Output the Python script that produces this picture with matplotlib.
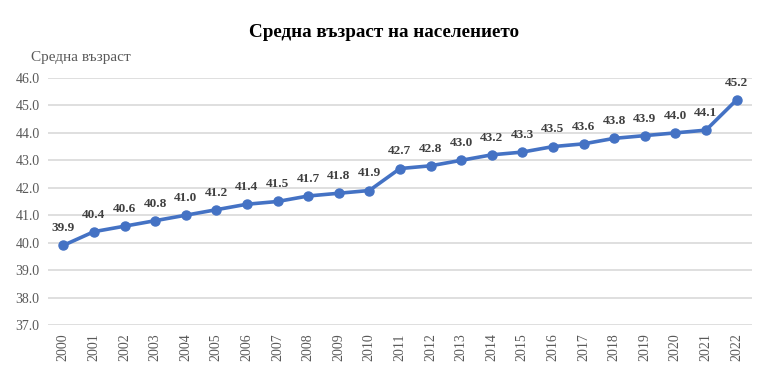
import matplotlib.pyplot as plt
import numpy as np

years = [str(y) for y in range(2000, 2023)]
age = [39.9, 40.4, 40.6, 40.8, 41.0, 41.2, 41.4, 41.5, 41.7, 41.8, 41.9,
       42.7, 42.8, 43.0, 43.2, 43.3, 43.5, 43.6, 43.8, 43.9, 44.0, 44.1, 45.2]
yticks = np.arange(37.0, 46.5, 1.0)

plt.rcParams['font.family'] = ['Liberation Serif', 'DejaVu Serif']

fig = plt.figure(figsize=(7.68, 3.88), dpi=100)
ax = fig.add_axes([0.0625, 0.1624, 0.9165, 0.6366])

x = np.arange(len(years))
ax.plot(x, age, color='#4472C4', linewidth=2.6, marker='o', markersize=6.5, zorder=3)
for xi, v in zip(x, age):
    ax.annotate(f'{v:.1f}', (xi, v), xytext=(0, 8), textcoords='offset points',
                ha='center', va='bottom', fontsize=9.5, fontweight='bold', color='#404040')

ax.set_xlim(-0.5, len(years) - 0.5)
ax.set_ylim(37, 46)
ax.set_yticks(yticks)
ax.set_yticklabels([f'{t:.1f}' for t in yticks], fontsize=10, color='#595959')
ax.set_xticks(x)
ax.set_xticklabels(years, rotation=90, fontsize=10, color='#595959')
ax.tick_params(length=0, pad=6)
ax.grid(axis='y', color='#D9D9D9', linewidth=1.2)
ax.set_axisbelow(True)
for s in ax.spines.values():
    s.set_visible(False)

fig.text(0.5, 0.915, 'Средна възраст на населението', ha='center', va='center',
         fontsize=13.8, fontweight='bold', color='black')
fig.text(0.04, 0.853, 'Средна възраст', ha='left', va='center', fontsize=11, color='#595959')

fig.savefig('out.png', dpi=100)
